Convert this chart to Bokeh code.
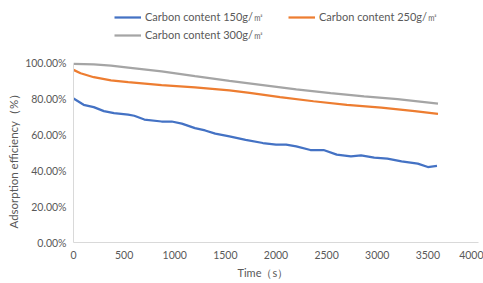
from bokeh.plotting import figure
from bokeh.models import Legend, LegendItem, PrintfTickFormatter, FixedTicker, Range1d, Title
from bokeh.embed import file_html
from bokeh.resources import INLINE

# ---- data ----
t_150 = [0, 100, 200, 300, 400, 540, 600, 700, 870, 970, 1070, 1200, 1300, 1400, 1540,
         1700, 1870, 2000, 2100, 2200, 2340, 2470, 2600, 2740, 2840, 2970, 3100, 3240,
         3400, 3500, 3590]
eff_150 = [80.3, 76.8, 75.5, 73.3, 72.2, 71.3, 70.7, 68.6, 67.5, 67.5, 66.3, 63.8, 62.5,
           60.7, 59.2, 57.3, 55.5, 54.6, 54.6, 53.6, 51.6, 51.6, 49.0, 48.0, 48.6, 47.3,
           46.8, 45.3, 44.0, 42.1, 42.7]

t_250 = [0, 70, 200, 370, 540, 870, 1200, 1540, 1740, 2040, 2370, 2700, 3040, 3370, 3600]
eff_250 = [96.3, 94.4, 92.2, 90.5, 89.4, 87.8, 86.5, 84.8, 83.5, 81.1, 78.8, 76.8, 75.2,
           73.3, 71.8]

t_300 = [0, 200, 370, 540, 870, 1200, 1540, 1870, 2200, 2540, 2870, 3200, 3600]
eff_300 = [99.6, 99.3, 98.7, 97.6, 95.4, 92.8, 90.2, 87.8, 85.4, 83.3, 81.5, 80.0, 77.5]

labels = ["Carbon content 150g/\u33a1", "Carbon content 250g/\u33a1", "Carbon content 300g/\u33a1"]
x_title = "Time\uff08s\uff09"
y_title = "Adsorption efficiency\uff08%\uff09"
x_ticks = [0, 500, 1000, 1500, 2000, 2500, 3000, 3500, 4000]
y_ticks = [0, 20, 40, 60, 80, 100]

FONT = "Lato"
TXT = "#595959"

# frame extends above 100% to host the legend; the y axis line stops at 100%
p = figure(width=483, height=283, output_backend="svg", toolbar_location=None,
           x_range=Range1d(0, 4000), y_range=Range1d(0, 135),
           min_border_left=73, min_border_right=5, min_border_top=0, min_border_bottom=41)
p.outline_line_color = None
p.grid.visible = False

colors = ["#4472C4", "#ED7D31", "#A5A5A5"]
r1 = p.line(t_150, eff_150, line_color=colors[0], line_width=2.25)
r2 = p.line(t_250, eff_250, line_color=colors[1], line_width=2.25)
r3 = p.line(t_300, eff_300, line_color=colors[2], line_width=2.25)

for ax in (p.xaxis[0], p.yaxis[0]):
    ax.axis_line_color = "#D9D9D9"
    ax.axis_line_width = 1
    ax.major_tick_line_color = None
    ax.minor_tick_line_color = None
    ax.major_tick_out = 0
    ax.major_tick_in = 0
    ax.major_label_text_font = FONT
    ax.major_label_text_font_size = "10.5px"
    ax.major_label_text_color = TXT

p.yaxis.bounds = (0, 100)
p.xaxis.ticker = FixedTicker(ticks=x_ticks)
p.yaxis.ticker = FixedTicker(ticks=y_ticks)
p.yaxis.formatter = PrintfTickFormatter(format="%.2f%%")
p.xaxis.major_label_standoff = 8
p.yaxis.major_label_standoff = 7

# axis titles as side titles so they can be offset like the reference
ty = Title(text=y_title, align="left", offset=14, standoff=6,
           text_font=FONT, text_font_size="11.5px", text_color=TXT,
           text_font_style="normal")
p.add_layout(ty, "left")
tx = Title(text=x_title, align="left", offset=164, standoff=4,
           text_font=FONT, text_font_size="11px", text_color=TXT,
           text_font_style="normal")
p.add_layout(tx, "below")

legend = Legend(items=[LegendItem(label=labels[0], renderers=[r1]),
                       LegendItem(label=labels[1], renderers=[r2]),
                       LegendItem(label=labels[2], renderers=[r3])],
                orientation="horizontal", ncols=2,
                location=(41, 198))
legend.background_fill_alpha = 0
legend.border_line_color = None
legend.padding = 0
legend.margin = 0
legend.spacing = 0
legend.glyph_width = 27
legend.glyph_height = 18
legend.label_standoff = 4
legend.label_width = 143
legend.label_text_font = FONT
legend.label_text_font_size = "11px"
legend.label_text_color = TXT
legend.label_height = 18
p.add_layout(legend, "center")

open("out.html", "w").write(file_html(p, INLINE))
